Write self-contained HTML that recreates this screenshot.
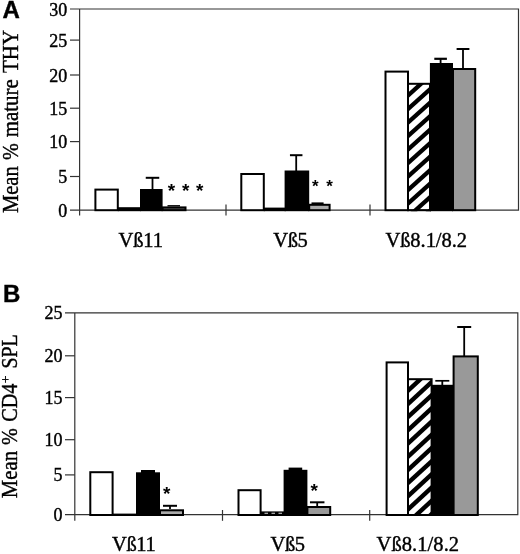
<!DOCTYPE html>
<html lang="en"><head><meta charset="utf-8"><title>Figure</title>
<style>html,body{margin:0;padding:0;background:#fff}body{width:520px;height:554px;overflow:hidden}svg{display:block}.s{font-family:"Liberation Serif",serif;fill:#000}.b{font-family:"Liberation Sans",sans-serif;font-weight:bold;fill:#000}.t{stroke:#000;stroke-width:.4px}.ax{stroke:#333;stroke-width:1.2;fill:none}.k{stroke:#000;fill:none}</style></head><body>
<svg width="520" height="554" viewBox="0 0 520 554">
<rect width="520" height="554" fill="#fff"/>
<text class="b t" x="2.4" y="18.3" font-size="24">A</text>
<path class="ax" d="M70 9.0H518.5V210.2H70M79.6 9.0V215.5"/>
<line class="ax" x1="70" y1="40.1" x2="79.6" y2="40.1"/>
<line class="ax" x1="70" y1="75.0" x2="79.6" y2="75.0"/>
<line class="ax" x1="70" y1="108.2" x2="79.6" y2="108.2"/>
<line class="ax" x1="70" y1="141.6" x2="79.6" y2="141.6"/>
<line class="ax" x1="70" y1="176.5" x2="79.6" y2="176.5"/>
<line class="ax" x1="226" y1="204.6" x2="226" y2="215.5"/>
<line class="ax" x1="370" y1="204.6" x2="370" y2="215.5"/>
<text class="s t" x="67.3" y="15.5" font-size="18" text-anchor="end">30</text>
<text class="s t" x="67.3" y="46.6" font-size="18" text-anchor="end">25</text>
<text class="s t" x="67.3" y="81.5" font-size="18" text-anchor="end">20</text>
<text class="s t" x="67.3" y="114.7" font-size="18" text-anchor="end">15</text>
<text class="s t" x="67.3" y="148.1" font-size="18" text-anchor="end">10</text>
<text class="s t" x="67.3" y="183.0" font-size="18" text-anchor="end">5</text>
<text class="s t" x="67.3" y="216.7" font-size="18" text-anchor="end">0</text>
<text class="s t" font-size="22.5" transform="translate(17.6 213.1) rotate(-90)" textLength="46.9" lengthAdjust="spacingAndGlyphs">Mean</text>
<text class="s t" font-size="22.5" transform="translate(17.6 160.1) rotate(-90)" textLength="16.8" lengthAdjust="spacingAndGlyphs">%</text>
<text class="s t" font-size="22.5" transform="translate(17.6 137.3) rotate(-90)" textLength="58.1" lengthAdjust="spacingAndGlyphs">mature</text>
<text class="s t" font-size="22.5" transform="translate(17.6 73.0) rotate(-90)" textLength="43.1" lengthAdjust="spacingAndGlyphs">THY</text>
<text class="s t" font-size="20.5" x="118.5" y="247.2" textLength="44.5" lengthAdjust="spacing">Vß11</text>
<text class="s t" font-size="20.5" x="273.2" y="247.2" textLength="34.6" lengthAdjust="spacing">Vß5</text>
<text class="s t" font-size="20.5" x="385.4" y="247.2" textLength="81.6" lengthAdjust="spacing">Vß8.1/8.2</text>
<rect x="95.4" y="189.6" width="22.39999999999999" height="20.599999999999994" fill="#fff" stroke="#000" stroke-width="2"/>
<rect x="117.8" y="207.2" width="23" height="4" fill="#000"/>
<rect x="141.0" y="190.0" width="20.599999999999994" height="20.19999999999999" fill="#000" stroke="#000" stroke-width="2"/>
<line class="k" stroke-width="1.8" x1="152.5" y1="177.8" x2="152.5" y2="190"/>
<line class="k" stroke-width="2" x1="145.75" y1="177.8" x2="159.25" y2="177.8"/>
<rect x="162.6" y="207.4" width="22.900000000000006" height="2.799999999999983" fill="#555" stroke="#000" stroke-width="2"/>
<line class="k" stroke-width="1.4" x1="167.5" y1="205.8" x2="180" y2="205.8"/>
<text class="b" x="171.5" y="196.80" font-size="19" text-anchor="middle">*</text>
<text class="b" x="185.8" y="196.80" font-size="19" text-anchor="middle">*</text>
<text class="b" x="199.6" y="196.80" font-size="19" text-anchor="middle">*</text>
<rect x="241.3" y="174.0" width="22.5" height="36.19999999999999" fill="#fff" stroke="#000" stroke-width="2"/>
<rect x="263.8" y="207.6" width="22" height="3.6" fill="#000"/>
<rect x="285.6" y="171.5" width="22.599999999999966" height="38.69999999999999" fill="#000" stroke="#000" stroke-width="2"/>
<line class="k" stroke-width="1.8" x1="296.2" y1="155.2" x2="296.2" y2="171"/>
<line class="k" stroke-width="2" x1="289.95" y1="155.2" x2="302.45" y2="155.2"/>
<rect x="309.2" y="204.8" width="20.400000000000034" height="5.399999999999977" fill="#aaa" stroke="#000" stroke-width="2"/>
<line class="k" stroke-width="1.6" x1="311.5" y1="203.2" x2="323.6" y2="203.2"/>
<text class="b" x="315.4" y="191.60" font-size="17" text-anchor="middle">*</text>
<text class="b" x="329.6" y="191.60" font-size="17" text-anchor="middle">*</text>
<rect x="385.5" y="71.6" width="22.5" height="138.6" fill="#fff" stroke="#000" stroke-width="2"/>
<clipPath id="hA"><rect x="409" y="84" width="22" height="127.19999999999999"/></clipPath>
<g clip-path="url(#hA)" stroke="#000" stroke-width="4.3">
<line x1="404" y1="247.6" x2="436" y2="218.8"/>
<line x1="404" y1="234.1" x2="436" y2="205.3"/>
<line x1="404" y1="220.6" x2="436" y2="191.8"/>
<line x1="404" y1="207.1" x2="436" y2="178.3"/>
<line x1="404" y1="193.6" x2="436" y2="164.8"/>
<line x1="404" y1="180.1" x2="436" y2="151.3"/>
<line x1="404" y1="166.6" x2="436" y2="137.8"/>
<line x1="404" y1="153.1" x2="436" y2="124.3"/>
<line x1="404" y1="139.6" x2="436" y2="110.8"/>
<line x1="404" y1="126.1" x2="436" y2="97.3"/>
<line x1="404" y1="112.6" x2="436" y2="83.8"/>
<line x1="404" y1="99.1" x2="436" y2="70.3"/>
<line x1="404" y1="85.6" x2="436" y2="56.8"/>
<line x1="404" y1="72.1" x2="436" y2="43.3"/>
</g>
<rect x="408.0" y="83.8" width="22" height="126.39999999999998" fill="none" stroke="#000" stroke-width="2"/>
<rect x="430.9" y="64.0" width="21.100000000000023" height="146.2" fill="#000" stroke="#000" stroke-width="2"/>
<line class="k" stroke-width="1.8" x1="440.6" y1="58.8" x2="440.6" y2="64"/>
<line class="k" stroke-width="2.2" x1="434.3" y1="58.8" x2="446.90000000000003" y2="58.8"/>
<rect x="453.0" y="69.0" width="22.19999999999999" height="141.2" fill="#999" stroke="#000" stroke-width="2"/>
<line class="k" stroke-width="1.8" x1="463" y1="49" x2="463" y2="68"/>
<line class="k" stroke-width="2" x1="456.6" y1="49" x2="469.4" y2="49"/>
<text class="b t" x="2.9" y="301.5" font-size="24">B</text>
<path class="ax" d="M65 312.8H517.8V514.7H65M74.8 312.8V520.8"/>
<line class="ax" x1="65" y1="355.8" x2="74.8" y2="355.8"/>
<line class="ax" x1="65" y1="397.6" x2="74.8" y2="397.6"/>
<line class="ax" x1="65" y1="439.7" x2="74.8" y2="439.7"/>
<line class="ax" x1="65" y1="474.9" x2="74.8" y2="474.9"/>
<line class="ax" x1="222.5" y1="510" x2="222.5" y2="520.8"/>
<line class="ax" x1="369.7" y1="510" x2="369.7" y2="520.8"/>
<text class="s t" x="62.4" y="319.3" font-size="18" text-anchor="end">25</text>
<text class="s t" x="62.4" y="362.3" font-size="18" text-anchor="end">20</text>
<text class="s t" x="62.4" y="404.1" font-size="18" text-anchor="end">15</text>
<text class="s t" x="62.4" y="446.2" font-size="18" text-anchor="end">10</text>
<text class="s t" x="62.4" y="481.4" font-size="18" text-anchor="end">5</text>
<text class="s t" x="62.4" y="521.2" font-size="18" text-anchor="end">0</text>
<text class="s t" font-size="22.5" transform="translate(16.6 498.2) rotate(-90)" textLength="47.2" lengthAdjust="spacingAndGlyphs">Mean</text>
<text class="s t" font-size="22.5" transform="translate(16.6 444.9) rotate(-90)" textLength="16.8" lengthAdjust="spacingAndGlyphs">%</text>
<text class="s t" font-size="22.5" transform="translate(16.6 421.8) rotate(-90)" textLength="38.3" lengthAdjust="spacingAndGlyphs">CD4</text>
<text class="s t" font-size="22.5" transform="translate(16.6 368.5) rotate(-90)" textLength="34.2" lengthAdjust="spacingAndGlyphs">SPL</text>
<text class="s t" font-size="13.5" transform="translate(9.6 383.2) rotate(-90)">+</text>
<text class="s t" font-size="20.5" x="111.9" y="551.2" textLength="43.8" lengthAdjust="spacing">Vß11</text>
<text class="s t" font-size="20.5" x="270.5" y="551.2" textLength="34.5" lengthAdjust="spacing">Vß5</text>
<text class="s t" font-size="20.5" x="376.59999999999997" y="551.2" textLength="82.5" lengthAdjust="spacing">Vß8.1/8.2</text>
<rect x="90.3" y="472.2" width="22.299999999999997" height="42.80000000000001" fill="#fff" stroke="#000" stroke-width="2"/>
<rect x="112.6" y="513.6" width="24" height="2.4" fill="#000"/>
<rect x="137.0" y="473.3" width="22" height="41.69999999999999" fill="#000" stroke="#000" stroke-width="2"/>
<rect x="141" y="470" width="14" height="3" fill="#000"/>
<rect x="160.0" y="510.3" width="23" height="4.699999999999989" fill="#aaa" stroke="#000" stroke-width="2"/>
<line class="k" stroke-width="1.8" x1="170" y1="505.8" x2="170" y2="509"/>
<line class="k" stroke-width="2" x1="163.0" y1="505.8" x2="177.0" y2="505.8"/>
<text class="b" x="166.8" y="500.10" font-size="19" text-anchor="middle">*</text>
<rect x="238.5" y="490.2" width="22.100000000000023" height="24.80000000000001" fill="#fff" stroke="#000" stroke-width="2"/>
<rect x="260.6" y="511.4" width="24" height="4.6" fill="#000"/>
<line stroke="#ddd" stroke-width="1.1" stroke-dasharray="3.5 3.5" x1="264.5" y1="513.2" x2="283" y2="513.2"/>
<rect x="284.6" y="470.8" width="21.799999999999955" height="44.19999999999999" fill="#000" stroke="#000" stroke-width="2"/>
<rect x="288.6" y="467.6" width="13.6" height="3" fill="#000"/>
<rect x="307.4" y="507.0" width="22.80000000000001" height="8" fill="#999" stroke="#000" stroke-width="2"/>
<line class="k" stroke-width="1.8" x1="317.2" y1="502.3" x2="317.2" y2="507"/>
<line class="k" stroke-width="2" x1="309.95" y1="502.3" x2="324.45" y2="502.3"/>
<text class="b" x="314.3" y="496.70" font-size="19" text-anchor="middle">*</text>
<rect x="386.6" y="362.4" width="21.399999999999977" height="152.60000000000002" fill="#fff" stroke="#000" stroke-width="2"/>
<clipPath id="hB"><rect x="409" y="379" width="23" height="137"/></clipPath>
<g clip-path="url(#hB)" stroke="#000" stroke-width="4.4">
<line x1="404" y1="552.7" x2="437" y2="522.3"/>
<line x1="404" y1="539.5" x2="437" y2="509.1"/>
<line x1="404" y1="526.3" x2="437" y2="495.9"/>
<line x1="404" y1="513.1" x2="437" y2="482.7"/>
<line x1="404" y1="499.9" x2="437" y2="469.5"/>
<line x1="404" y1="486.7" x2="437" y2="456.3"/>
<line x1="404" y1="473.5" x2="437" y2="443.1"/>
<line x1="404" y1="460.3" x2="437" y2="429.9"/>
<line x1="404" y1="447.1" x2="437" y2="416.7"/>
<line x1="404" y1="433.9" x2="437" y2="403.5"/>
<line x1="404" y1="420.7" x2="437" y2="390.3"/>
<line x1="404" y1="407.5" x2="437" y2="377.1"/>
<line x1="404" y1="394.3" x2="437" y2="363.9"/>
<line x1="404" y1="381.1" x2="437" y2="350.7"/>
<line x1="404" y1="367.9" x2="437" y2="337.5"/>
</g>
<rect x="408.0" y="379.2" width="23.600000000000023" height="135.8" fill="none" stroke="#000" stroke-width="2"/>
<rect x="432.6" y="385.8" width="20.0" height="129.2" fill="#000" stroke="#000" stroke-width="2"/>
<line class="k" stroke-width="1.8" x1="442.3" y1="380.8" x2="442.3" y2="385"/>
<line class="k" stroke-width="1.7" x1="435.3" y1="380.8" x2="449.3" y2="380.8"/>
<rect x="453.6" y="356.4" width="24.19999999999999" height="158.60000000000002" fill="#999" stroke="#000" stroke-width="2"/>
<line class="k" stroke-width="1.8" x1="464.2" y1="327" x2="464.2" y2="357"/>
<line class="k" stroke-width="2" x1="457.2" y1="327" x2="471.2" y2="327"/>
</svg></body></html>
